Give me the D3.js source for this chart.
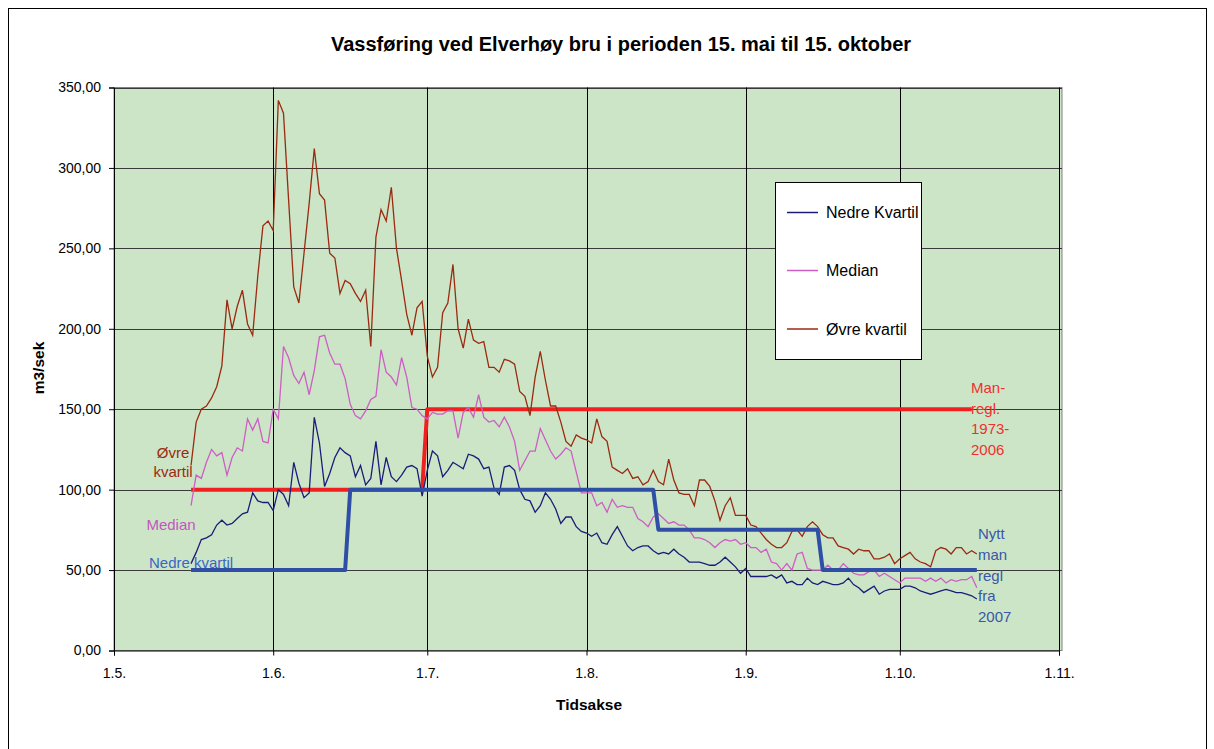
<!DOCTYPE html>
<html><head><meta charset="utf-8">
<script src="https://cdn.jsdelivr.net/npm/d3@7"></script>
<style>
body{margin:0;background:#fff;}
svg{display:block;font-family:"Liberation Sans",Arial,sans-serif;}
</style></head>
<body>
<svg id="c" width="1214" height="749"></svg>
<script>
// ---- data ----
const title = "Vassføring ved Elverhøy bru i perioden 15. mai til 15. oktober";
const yTitle = "m3/sek";
const xTitle = "Tidsakse";
const startDate = "2007-05-16";
const xTickDates = ["2007-05-01","2007-06-01","2007-07-01","2007-08-01","2007-09-01","2007-10-01","2007-11-01"];
const xTickLabels = ["1.5.","1.6.","1.7.","1.8.","1.9.","1.10.","1.11."];
const yTicks = [0,50,100,150,200,250,300,350];
const seriesNames = ["Nedre Kvartil","Median","Øvre kvartil"];

const nedre = [54,61,69,70,72,78,81,78,79,82,
85,86,98,93,92,92,87,100,97,90,
117,104,95,98,145,129,102,110,120,126,
123,121,108,115,103,107,130,103,120,108,
105,109,114,115,113,96,112,124,121,108,
112,117,115,113,122,121,119,113,114,101,
97,114,115,112,100,94,93,86,90,98,
94,88,79,83,83,77,74,73,71,73,
67,66,72,77,71,65,62,64,65,65,
62,60,61,60,63,60,58,55,55,55,
54,53,53,55,58,55,52,48,51,46,
46,46,46,47,45,47,42,43,41,41,
45,42,41,43,42,41,41,42,45,41,
39,36,38,40,35,37,38,38,38,40,
40,39,37,36,35,36,37,38,37,36,
36,35,34,32];

const median = [90,109,107,117,125,121,123,109,120,126,
124,144,137,144,130,129,150,144,189,182,
171,166,173,159,174,195,196,185,178,178,
169,153,146,144,149,156,158,187,173,170,
165,182,170,151,150,146,144,148,147,147,
149,149,132,148,151,145,159,145,142,143,
139,145,139,130,112,118,124,124,138,131,
124,119,122,126,124,111,98,98,98,90,
92,86,94,89,90,89,89,82,80,77,
83,85,82,79,80,78,78,75,70,70,
69,67,64,67,69,68,69,66,67,64,
64,61,63,55,54,50,54,50,60,61,
51,50,50,50,53,50,50,54,51,48,
47,47,49,50,46,48,46,44,42,45,
45,45,45,43,45,43,45,42,44,43,
44,44,46,39];

const ovre = [115,142,150,152,157,164,177,218,200,214,
224,203,196,233,264,267,261,342,334,280,
226,216,247,278,312,284,280,247,244,222,
230,228,222,217,224,189,257,274,267,288,
250,230,209,196,213,217,183,170,176,210,
216,240,200,188,206,193,191,192,176,176,
173,181,180,178,161,158,146,170,186,168,
152,152,142,130,127,134,132,131,129,144,
133,130,114,112,110,113,107,108,103,105,
112,105,103,119,106,98,97,97,90,106,
106,102,93,81,90,95,84,84,84,78,
77,73,69,66,64,64,67,74,75,71,
77,80,77,72,70,70,65,64,63,60,
63,62,62,57,57,58,60,54,57,59,
61,57,55,54,52,62,64,63,60,64,
64,60,62,60];

// manøvreringsreglement 1973-2006 (break points)
const oldRuleDates  = ["2007-05-16","2007-06-30","2007-07-01","2007-10-15"];
const oldRuleValues = [100,100,150,150];
// nytt manøvreringsreglement fra 2007
const newRuleDates  = ["2007-05-16","2007-06-15","2007-06-16","2007-08-14","2007-08-15","2007-09-15","2007-09-16","2007-10-16"];
const newRuleValues = [50,50,100,100,75,75,50,50];

// ---- drawing ----
const svg = d3.select("#c");
const parse = d3.timeParse("%Y-%m-%d");
const x = d3.scaleTime().domain([parse(xTickDates[0]), parse(xTickDates[xTickDates.length-1])]).range([114,1059]);
const y = d3.scaleLinear().domain([0,350]).range([650.5,87.5]);
const start = parse(startDate);
const dates = nedre.map((d,i)=>d3.timeDay.offset(start,i));

// outer frame
svg.append("rect").attr("x",8.5).attr("y",8.5).attr("width",1198).attr("height",800)
  .attr("fill","#fff").attr("stroke","#000").attr("stroke-width",1);

// plot area
svg.append("rect").attr("x",x.range()[0]).attr("y",y(350)).attr("width",x.range()[1]-x.range()[0]+3).attr("height",y(0)-y(350))
  .attr("fill","#CCE5C7").attr("stroke","#808080").attr("stroke-width",1);

// gridlines
svg.append("g").selectAll("line").data(yTicks.slice(1)).join("line")
  .attr("x1",x.range()[0]).attr("x2",x.range()[1]+3)
  .attr("y1",d=>Math.round(y(d))+0.5).attr("y2",d=>Math.round(y(d))+0.5)
  .attr("stroke","#3a3a3a").attr("stroke-width",1);
svg.append("g").selectAll("line").data(xTickDates.slice(1)).join("line")
  .attr("x1",d=>Math.round(x(parse(d)))+0.5).attr("x2",d=>Math.round(x(parse(d)))+0.5)
  .attr("y1",y(350)).attr("y2",y(0))
  .attr("stroke","#000").attr("stroke-width",1);

// axes
const fmt = d=>d3.format(".2f")(d).replace(".",",");
const yAx = svg.append("g").attr("transform",`translate(${x.range()[0]},0)`)
  .call(d3.axisLeft(y).tickValues(yTicks).tickFormat(fmt).tickSize(5).tickPadding(8));
yAx.selectAll("text").attr("font-size","14px").attr("fill","#000").attr("font-family","Liberation Sans, Arial");
yAx.selectAll("line,path").attr("stroke","#000");

const xAx = svg.append("g").attr("transform",`translate(0,${y(0)})`)
  .call(d3.axisBottom(x).tickValues(xTickDates.map(parse)).tickFormat((d,i)=>xTickLabels[i]).tickSize(5).tickPadding(13));
xAx.selectAll("text").attr("font-size","14px").attr("fill","#000").attr("font-family","Liberation Sans, Arial");
xAx.selectAll("line,path").attr("stroke","#000");

// series lines
const line = d3.line().x((d,i)=>x(dates[i])).y(d=>y(d));
const colors = {nedre:"#1c1c78", median:"#cc5ec4", ovre:"#9a2a10", oldRule:"#f02020", newRule:"#2f4fa6"};
const stepLine = d3.line().x(d=>x(parse(d[0]))).y(d=>y(d[1]));

svg.append("path").datum(oldRuleDates.map((d,i)=>[d,oldRuleValues[i]])).attr("d",stepLine)
  .attr("fill","none").attr("stroke",colors.oldRule).attr("stroke-width",4).attr("stroke-linejoin","round");
svg.append("path").datum(ovre).attr("d",line).attr("fill","none").attr("stroke",colors.ovre).attr("stroke-width",1.3);
svg.append("path").datum(median).attr("d",line).attr("fill","none").attr("stroke",colors.median).attr("stroke-width",1.3);
svg.append("path").datum(nedre).attr("d",line).attr("fill","none").attr("stroke",colors.nedre).attr("stroke-width",1.3);

// in-plot labels
function multi(xp, yp, lines, color, anchor, lh){
  const t = svg.append("text").attr("x",xp).attr("y",yp).attr("fill",color)
    .attr("font-size","15px").attr("text-anchor",anchor||"start");
  lines.forEach((s,i)=>t.append("tspan").attr("x",xp).attr("dy",i?lh:0).text(s));
}
multi(173,458,["Øvre","kvartil"],"#9a2a10","middle",18.5);
multi(171,530,["Median"],"#c455bf","middle",18);
multi(149,568,["Nedre kvartil"],"#3a66c4","start",18);

svg.append("path").datum(newRuleDates.map((d,i)=>[d,newRuleValues[i]])).attr("d",stepLine)
  .attr("fill","none").attr("stroke",colors.newRule).attr("stroke-width",4).attr("stroke-linejoin","round");

multi(971,393,["Man-","regl.","1973-","2006"],"#f03030","start",20.7);
multi(978,539,["Nytt","man","regl","fra","2007"],"#3a56a8","start",20.8);

// legend
const lg = svg.append("g");
lg.append("rect").attr("x",775.5).attr("y",182.5).attr("width",146).attr("height",177)
  .attr("fill","#fff").attr("stroke","#000").attr("stroke-width",1);
const legColors = [colors.nedre, colors.median, colors.ovre];
const legY = [212.5,270.5,329];
seriesNames.forEach((n,i)=>{
  lg.append("line").attr("x1",787).attr("x2",818).attr("y1",legY[i]).attr("y2",legY[i])
    .attr("stroke",legColors[i]).attr("stroke-width",1.5);
  lg.append("text").attr("x",826).attr("y",legY[i]+5.5).attr("font-size","16px").attr("fill","#000").text(n);
});

// titles
svg.append("text").attr("x",621).attr("y",51).attr("text-anchor","middle")
  .attr("font-size","20px").attr("font-weight","bold").text(title);
svg.append("text").attr("transform","translate(44,368) rotate(-90)").attr("text-anchor","middle")
  .attr("font-size","15.5px").attr("font-weight","bold").text(yTitle);
svg.append("text").attr("x",589).attr("y",710).attr("text-anchor","middle")
  .attr("font-size","15.5px").attr("font-weight","bold").text(xTitle);
</script>
</body></html>
